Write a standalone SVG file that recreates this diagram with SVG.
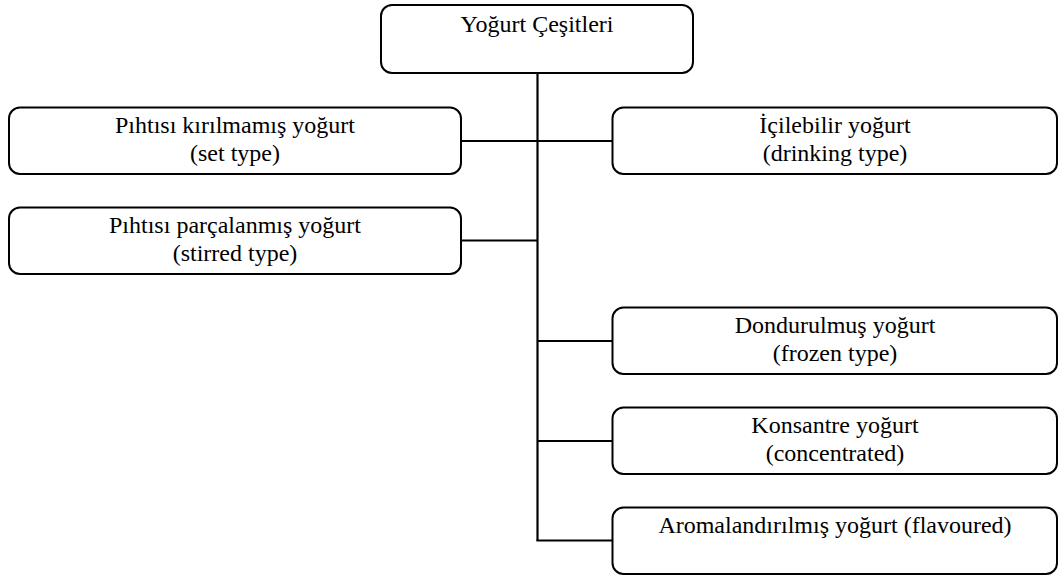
<svg xmlns="http://www.w3.org/2000/svg" width="1059" height="577" viewBox="0 0 1059 577">
<style>
.box{fill:#fff;stroke:#000;stroke-width:2}
.t{font-family:"Liberation Serif","Times New Roman",serif;font-size:24px;fill:#000;text-anchor:middle}
.c{stroke:#000;stroke-width:2.2;fill:none}
</style>
<rect width="1059" height="577" fill="#fff"/>
<g id="connectors">
<line class="c" x1="537.5" y1="73" x2="537.5" y2="541"/>
<line class="c" x1="461" y1="141" x2="613" y2="141"/>
<line class="c" x1="461" y1="240.5" x2="537.5" y2="240.5"/>
<line class="c" x1="537.5" y1="341" x2="613" y2="341"/>
<line class="c" x1="537.5" y1="441" x2="613" y2="441"/>
<line class="c" x1="536.5" y1="540.5" x2="613" y2="540.5"/>
</g>
<g id="root">
<rect class="box" x="381" y="5" width="312" height="68" rx="11"/>
<text class="t" x="537" y="32">Yoğurt Çeşitleri</text>
</g>
<g id="set">
<rect class="box" x="9" y="107.5" width="452" height="66.5" rx="11"/>
<text class="t" x="235" y="133">Pıhtısı kırılmamış yoğurt</text>
<text class="t" x="235" y="160.5">(set type)</text>
</g>
<g id="stirred">
<rect class="box" x="9" y="207.5" width="452" height="66.5" rx="11"/>
<text class="t" x="235" y="233">Pıhtısı parçalanmış yoğurt</text>
<text class="t" x="235" y="260.5">(stirred type)</text>
</g>
<g id="drinking">
<rect class="box" x="612.5" y="107.5" width="444.5" height="66.5" rx="11"/>
<text class="t" x="835" y="133">İçilebilir yoğurt</text>
<text class="t" x="835" y="160.5">(drinking type)</text>
</g>
<g id="frozen">
<rect class="box" x="612.5" y="307.5" width="444.5" height="66.5" rx="11"/>
<text class="t" x="835" y="333">Dondurulmuş yoğurt</text>
<text class="t" x="835" y="360.5">(frozen type)</text>
</g>
<g id="concentrated">
<rect class="box" x="612.5" y="407.5" width="444.5" height="66.5" rx="11"/>
<text class="t" x="835" y="433">Konsantre yoğurt</text>
<text class="t" x="835" y="460.5">(concentrated)</text>
</g>
<g id="flavoured">
<rect class="box" x="612.5" y="507.5" width="444.5" height="66.5" rx="11"/>
<text class="t" x="835" y="533">Aromalandırılmış yoğurt (flavoured)</text>
</g>
</svg>
